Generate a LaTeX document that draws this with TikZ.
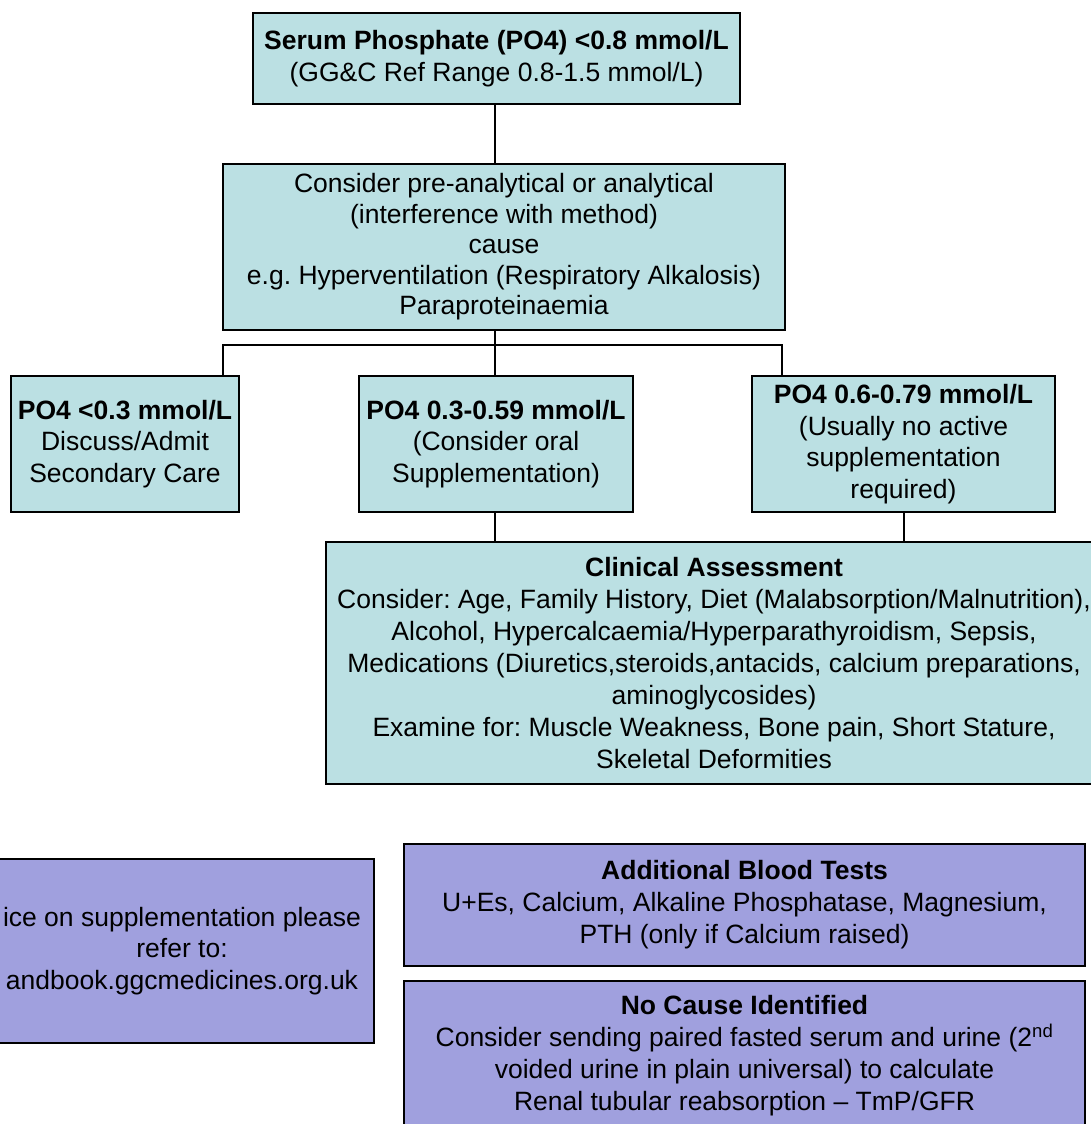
\documentclass[tikz,border=0pt]{standalone}
\usepackage{fontspec}
\setmainfont{Liberation Sans}
\frenchspacing
\definecolor{tealbox}{RGB}{187,224,227}
\definecolor{purplebox}{RGB}{160,160,222}
\tikzset{
  box/.style={draw=black, line width=2.2pt, rectangle, inner sep=0pt, align=center,
    font=\fontsize{26.5pt}{31.5pt}\selectfont\frenchspacing},
  tbox/.style={box, fill=tealbox},
  pbox/.style={box, fill=purplebox},
  conn/.style={draw=black, line width=2pt}
}
\begin{document}
\begin{tikzpicture}[x=1pt,y=-1pt]
\useasboundingbox (0,0) rectangle (1091,1124);
\clip (0,0) rectangle (1091,1124);
\fill[white] (0,0) rectangle (1091,1124);

\node[tbox, minimum width=487pt, minimum height=91pt] (top) at (496.5,58.5)
  {\textbf{Serum Phosphate (PO4) <0.8 mmol/L}\\(GG\&C Ref Range 0.8-1.5 mmol/L)};
\node[tbox, minimum width=562pt, minimum height=166pt,
  font=\fontsize{26.5pt}{30.5pt}\selectfont\frenchspacing] (cause) at (504,247)
  {Consider pre-analytical or analytical\\(interference with method)\\cause\\e.g. Hyperventilation (Respiratory Alkalosis)\\Paraproteinaemia};
\node[tbox, minimum width=228pt, minimum height=136pt] (low) at (125,444)
  {\textbf{PO4 <0.3 mmol/L}\\Discuss/Admit\\Secondary Care};
\node[tbox, minimum width=274pt, minimum height=136pt] (mid) at (496,444)
  {\textbf{PO4 0.3-0.59 mmol/L}\\(Consider oral\\Supplementation)};
\node[tbox, minimum width=303pt, minimum height=136pt] (high) at (903.5,444)
  {\textbf{PO4 0.6-0.79 mmol/L}\\(Usually no active\\supplementation\\required)};
\node[tbox, minimum width=776pt, minimum height=242pt,
  font=\fontsize{26.5pt}{32pt}\selectfont\frenchspacing] (clin) at (714,663)
  {\textbf{Clinical Assessment}\\Consider: Age, Family History, Diet (Malabsorption/Malnutrition),\\Alcohol, Hypercalcaemia/Hyperparathyroidism, Sepsis,\\Medications (Diuretics,steroids,antacids, calcium preparations,\\aminoglycosides)\\Examine for: Muscle Weakness, Bone pain, Short Stature,\\Skeletal Deformities};
\node[pbox, minimum width=384pt, minimum height=184pt] (advice) at (182,951)
  {ice on supplementation please\\refer to:\\andbook.ggcmedicines.org.uk};
\node[pbox, minimum width=681pt, minimum height=122pt,
  font=\fontsize{26.5pt}{32pt}\selectfont\frenchspacing] (blood) at (744.5,905)
  {\textbf{Additional Blood Tests}\\U+Es, Calcium, Alkaline Phosphatase, Magnesium,\\PTH (only if Calcium raised)};
\node[pbox, minimum width=681pt, minimum height=150pt,
  font=\fontsize{26.5pt}{32pt}\selectfont\frenchspacing] (nocause) at (744.5,1056)
  {\textbf{No Cause Identified}\\Consider sending paired fasted serum and urine (2\textsuperscript{nd}\\voided urine in plain universal) to calculate\\Renal tubular reabsorption \textendash{} TmP/GFR};

\coordinate (busL) at (223,345);
\coordinate (busR) at (782,345);
\coordinate (spine) at (495,0);

\draw[conn] (top.south -| spine) -- (cause.north -| spine);
\draw[conn] (cause.south -| spine) -- (mid.north -| spine);
\draw[conn] (low.north -| busL) -- (busL) -- (busR) -- (high.north -| busR);
\draw[conn] (mid.south -| spine) -- (clin.north -| spine);
\draw[conn] (high.south) -- (clin.north -| high.south);
\end{tikzpicture}
\end{document}
